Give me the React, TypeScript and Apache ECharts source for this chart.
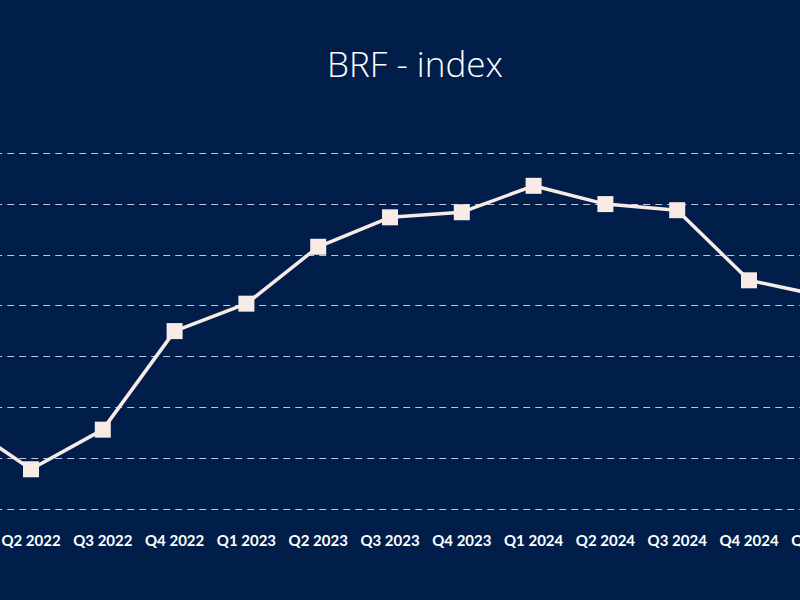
import React, { useEffect, useRef } from "react";
import * as echarts from "echarts";

const categories = [
  "Q1 2022", "Q2 2022", "Q3 2022", "Q4 2022",
  "Q1 2023", "Q2 2023", "Q3 2023", "Q4 2023",
  "Q1 2024", "Q2 2024", "Q3 2024", "Q4 2024", "Q1 2025",
];
const indexValues = [93.7, 88.9, 92.8, 102.5, 105.2, 110.8, 113.7, 114.2, 116.8, 115.0, 114.4, 107.5, 106.0];
const yMin = 85;
const yMax = 120;
const yStep = 5;

export default function App() {
  const ref = useRef<HTMLDivElement>(null);
  useEffect(() => {
    if (!ref.current) return;
    const chart = echarts.init(ref.current, null, { renderer: "svg" });
    chart.setOption({
      animation: false,
      backgroundColor: "#011e4b",
      title: {
        text: "BRF - index",
        left: 570,
        top: 41,
        textAlign: "center",
        textStyle: {
          color: "#ffffff",
          fontFamily: "'Open Sans', Lato, sans-serif",
          fontWeight: 300,
          fontSize: 35,
        },
      },
      grid: {
        left: 119.2,
        right: 139.2,
        top: 153.3,
        bottom: 600 - 508.9,
        outerBoundsMode: "none",
        containLabel: false,
      },
      xAxis: {
        type: "category",
        data: categories,
        boundaryGap: false,
        axisLine: { show: false },
        axisTick: { show: false },
        axisLabel: {
          interval: 0,
          color: "#ffffff",
          fontWeight: "bold",
          fontSize: 15,
          fontFamily: "Lato, 'Noto Sans', sans-serif",
          margin: 24,
          hideOverlap: false,
        },
        splitLine: { show: false },
      },
      yAxis: {
        type: "value",
        min: yMin,
        max: yMax,
        interval: yStep,
        axisLine: { show: false },
        axisTick: { show: false },
        axisLabel: { show: false },
        splitLine: {
          show: true,
          lineStyle: { color: "#c6c4dc", type: [7, 5], width: 1.2 },
        },
      },
      series: [
        {
          type: "line",
          data: indexValues,
          symbol: "rect",
          symbolSize: 16,
          showAllSymbol: true,
          lineStyle: { color: "#f8ebe6", width: 3.5 },
          itemStyle: { color: "#f8ebe6" },
        },
      ],
    });
    return () => chart.dispose();
  }, []);
  return (
    <div
      style={{
        position: "fixed",
        left: 0,
        top: 0,
        width: 800,
        height: 600,
        overflow: "hidden",
        background: "#011e4b",
      }}
    >
      <div
        ref={ref}
        style={{ position: "absolute", left: -160, top: 0, width: 1120, height: 600 }}
      />
    </div>
  );
}
